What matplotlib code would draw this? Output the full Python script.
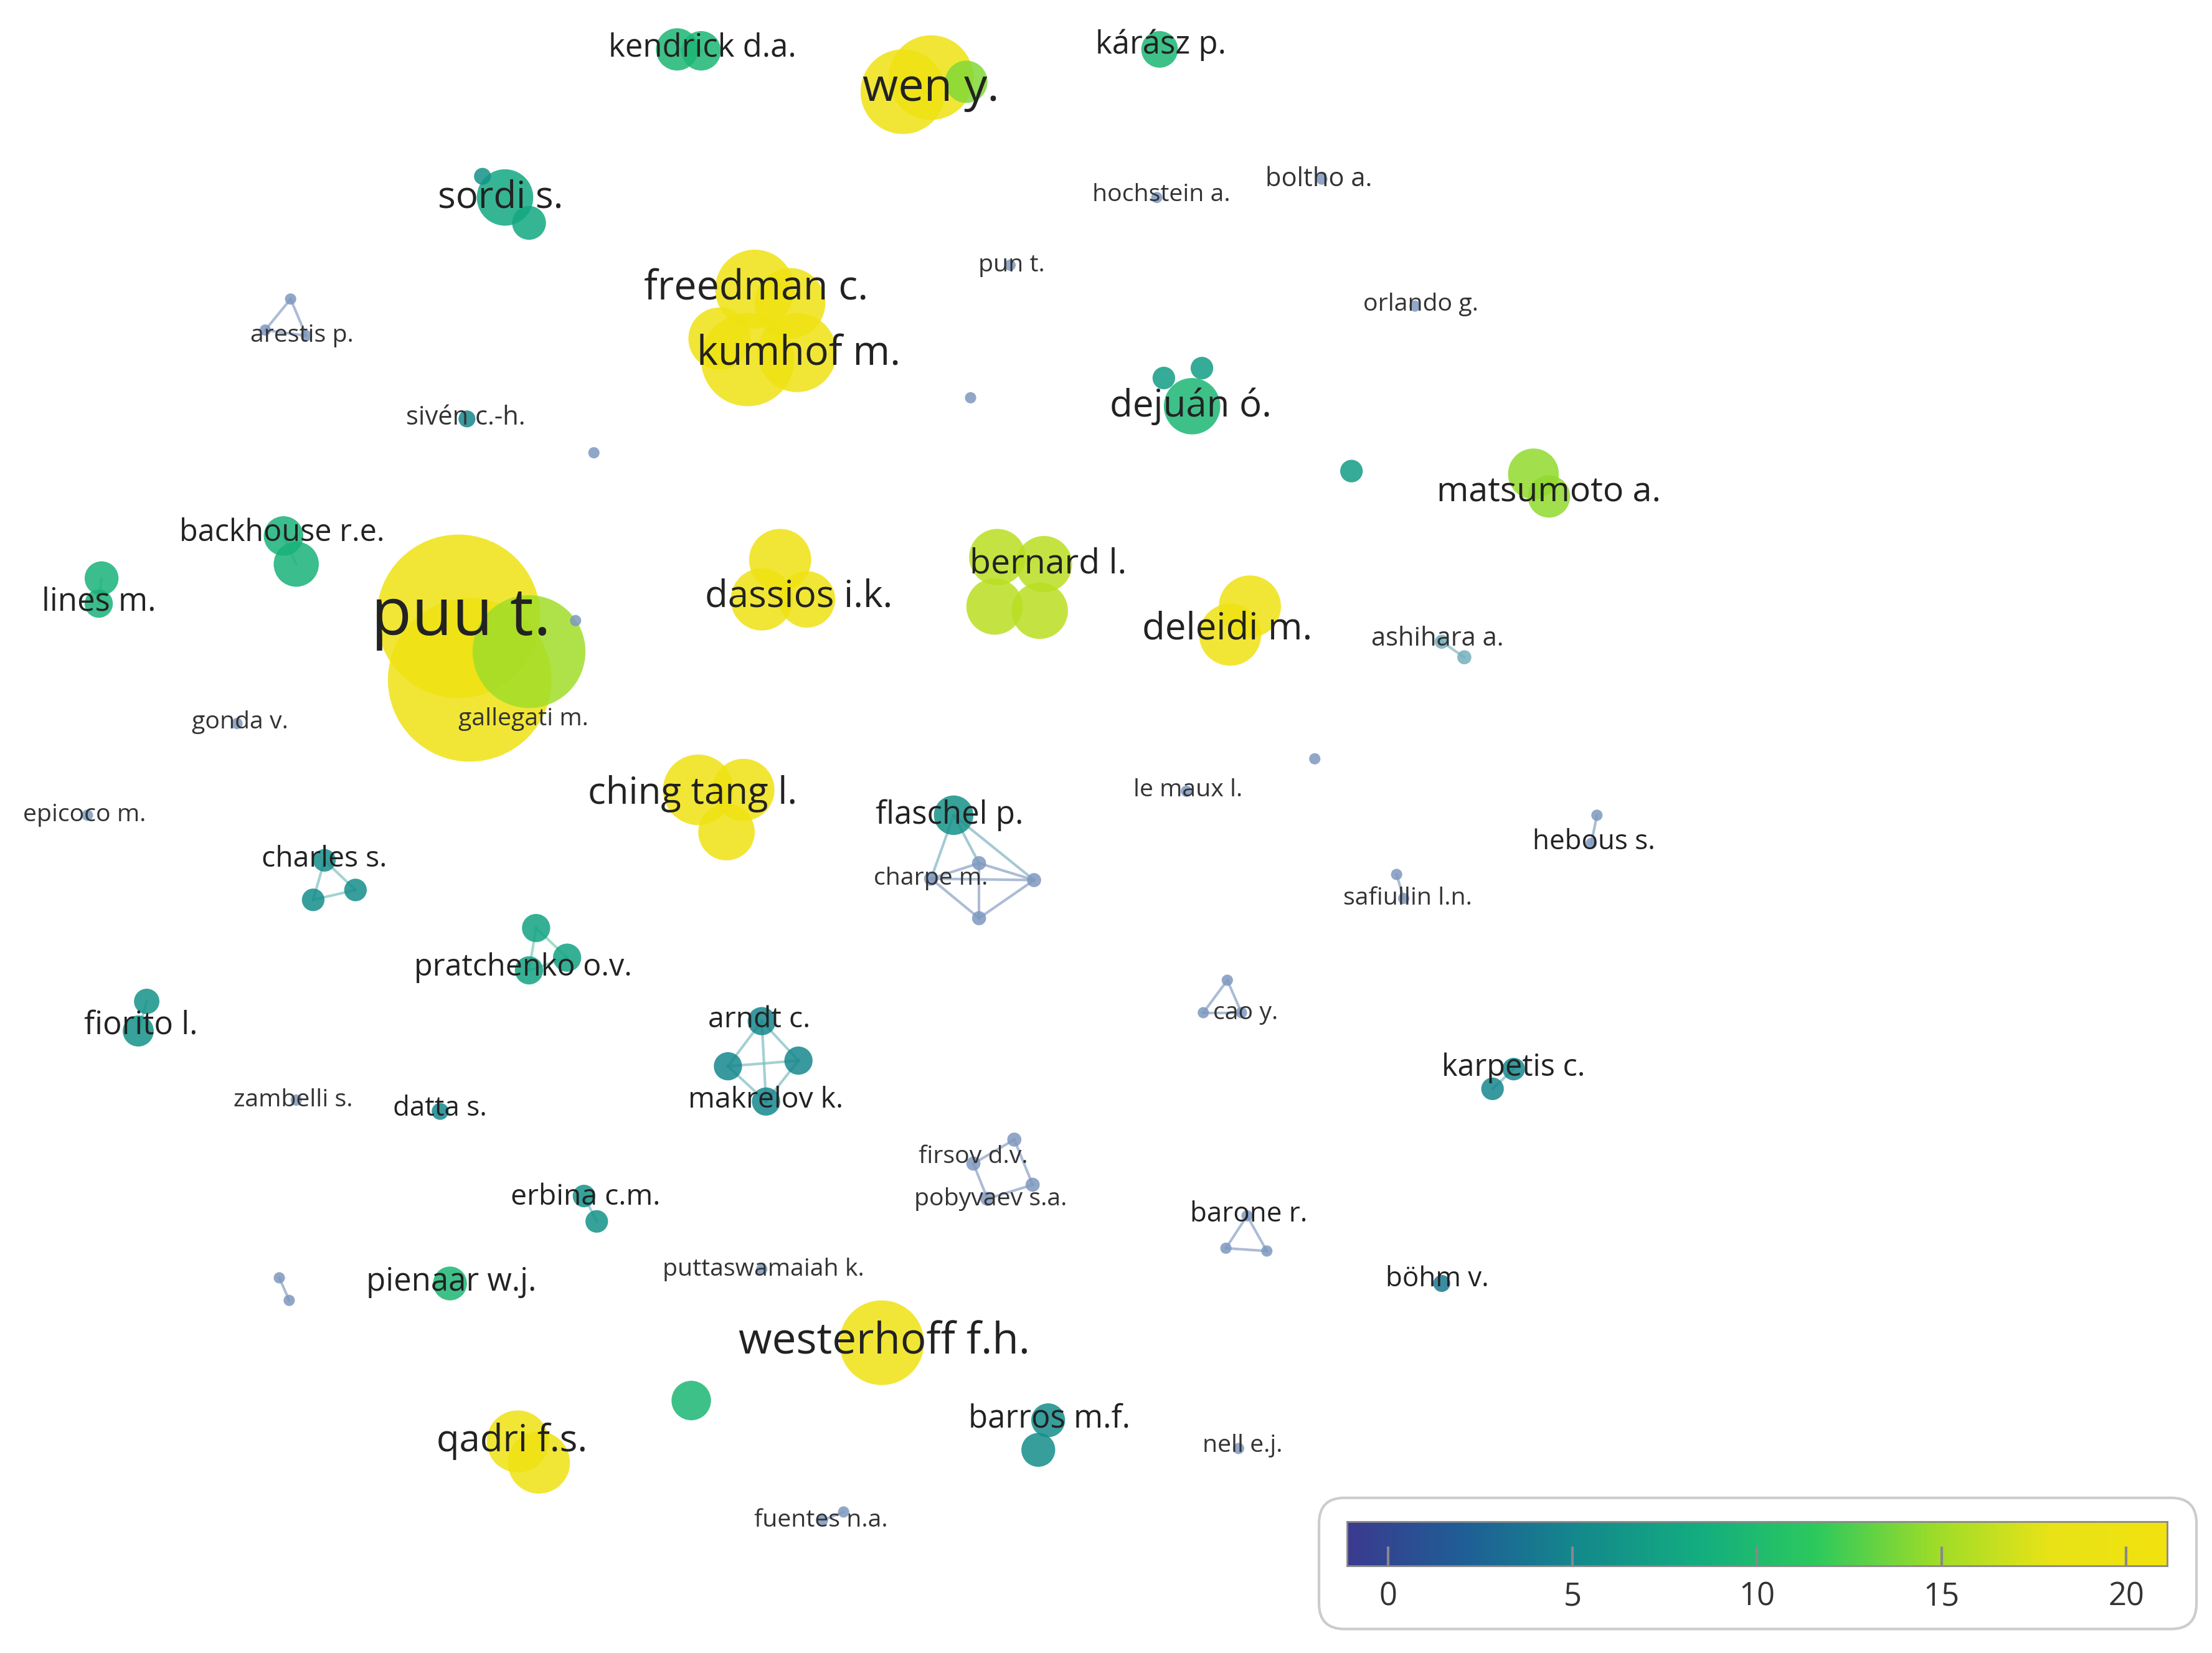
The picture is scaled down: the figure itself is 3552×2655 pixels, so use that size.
import matplotlib
matplotlib.use("Agg")
import matplotlib.pyplot as plt
from matplotlib.colors import LinearSegmentedColormap, Normalize
from matplotlib.patches import Circle, FancyBboxPatch
import numpy as np

plt.rcParams['font.family'] = ['Open Sans', 'DejaVu Sans']

W, H = 1568, 1172

# nodes: position, radius, score (colour value)
node_x = [480, 497, 640, 660, 685, 822, 358, 375, 342, 820, 937, 716, 1003,
          535, 560, 530, 565, 510, 206, 188, 217, 331, 421, 688, 845, 825, 852,
          958, 1087, 1098, 201, 210, 72, 70, 325, 333, 375, 408,
          553, 540, 572, 707, 740, 705, 737, 886, 872, 1022, 1038, 168, 62,
          495, 527, 515, 676, 694, 733, 694, 660, 841, 932, 1132, 1128, 990, 995,
          230, 222, 252, 380, 402, 375, 104, 98, 540, 516, 566, 543,
          870, 853, 880, 1073, 1058, 210, 312, 719, 732, 700, 690,
          414, 423, 869, 898, 884, 319, 198, 205, 540, 1022, 625, 490,
          743, 736, 878, 367, 382, 598, 583]
node_y = [35, 36, 65, 55, 58, 35, 140, 158, 125, 140, 127, 188, 217,
          205, 215, 255, 250, 240, 212, 234, 238, 297, 321, 282, 288, 268, 261,
          334, 336, 352, 380, 400, 410, 428, 437, 482, 462, 440,
          397, 425, 425, 395, 400, 430, 433, 430, 450, 455, 466, 513, 578,
          560, 560, 590, 578, 612, 624, 651, 623, 561, 538, 578, 598, 620, 637,
          610, 638, 631, 658, 679, 688, 710, 731, 724, 756, 752, 781,
          695, 718, 718, 758, 772, 780, 788, 808, 840, 850, 825,
          848, 866, 885, 887, 862, 910, 906, 922, 900, 910, 952, 993,
          1007, 1028, 1027, 1022, 1037, 1072, 1078]
node_r = [15, 14, 30, 30, 15, 13, 20, 12, 6, 4, 4, 4, 4,
          28, 25, 33, 28, 22, 4, 4, 4, 6, 4, 4, 20, 8, 8,
          8, 18, 15, 14, 16, 12, 10, 58, 58, 40, 4,
          22, 22, 20, 20, 20, 20, 20, 22, 22, 5, 5, 4, 4,
          25, 22, 20, 14, 5, 5, 5, 5, 4, 4, 4, 4, 4, 4,
          8, 8, 8, 10, 10, 10, 9, 11, 10, 10, 10, 10,
          4, 4, 4, 8, 8, 4, 6, 5, 5, 5, 5,
          8, 8, 4, 4, 4, 12, 4, 4, 4, 6, 30, 14,
          12, 12, 4, 22, 22, 4, 4]
node_v = [9.5, 9.5, 20, 20, 14, 9.5, 8, 8, 6, 1, 1, 1, 1,
          20, 20, 20, 20, 20, 1, 1, 1, 5, 1, 1, 9.5, 7, 7,
          7, 14.5, 14.5, 9, 9, 9, 9, 20, 20, 15, 1,
          20, 20, 20, 16, 16, 16, 16, 20, 20, 4, 4, 1, 2,
          20, 20, 20, 6, 1, 1, 1, 1, 1, 1, 1, 1, 1, 1,
          5.5, 5.5, 5.5, 7.5, 7.5, 7.5, 6, 6, 5, 5, 5, 5,
          1, 1, 1, 5, 5, 1, 5, 1, 1, 1, 1,
          6, 6, 1, 1, 1, 9.5, 1, 1, 1, 4, 20, 9.5,
          5.5, 5.5, 1, 20, 20, 1, 1]

# links within small clusters (node index pairs)
edges = [(18, 19), (19, 20), (18, 20), (55, 56), (56, 57), (57, 58), (58, 55),
         (55, 57), (56, 58), (54, 55), (54, 56), (54, 58),
         (73, 74), (74, 76), (76, 75), (75, 73), (73, 76), (74, 75),
         (77, 78), (78, 79), (79, 77), (84, 85), (85, 86), (86, 87), (87, 84),
         (90, 91), (91, 92), (92, 90), (94, 95), (65, 66), (66, 67), (67, 65),
         (68, 69), (69, 70), (70, 68), (47, 48), (61, 62), (63, 64),
         (71, 72), (80, 81), (88, 89), (105, 106), (0, 1), (30, 31), (32, 33)]

label_text = ["kendrick d.a.", "wen y.", "kárász p.", "sordi s.", "hochstein a.",
              "boltho a.", "pun t.", "orlando g.", "freedman c.", "kumhof m.",
              "arestis p.", "sivén c.-h.", "dejuán ó.", "matsumoto a.",
              "backhouse r.e.", "lines m.", "puu t.", "gallegati m.",
              "dassios i.k.", "bernard l.", "deleidi m.", "ashihara a.",
              "gonda v.", "epicoco m.", "ching tang l.", "flaschel p.",
              "charpe m.", "le maux l.", "hebous s.", "safiullin l.n.",
              "charles s.", "pratchenko o.v.", "fiorito l.", "arndt c.",
              "makrelov k.", "cao y.", "karpetis c.", "zambelli s.", "datta s.",
              "firsov d.v.", "pobyvaev s.a.", "erbina c.m.", "barone r.",
              "pienaar w.j.", "puttaswamaiah k.", "böhm v.", "westerhoff f.h.",
              "barros m.f.", "nell e.j.", "qadri f.s.", "fuentes n.a."]
label_x = [498, 660, 823, 355, 823, 935, 717, 1007, 536, 566, 214, 330, 844,
           1098, 200, 70, 327, 371, 566, 743, 870, 1019, 170, 60, 491, 673,
           660, 842, 1130, 998, 230, 371, 100, 538, 543, 883, 1073, 208, 312,
           690, 702, 415, 885, 320, 541, 1019, 627, 744, 881, 363, 582]
label_y = [34, 63, 32, 140, 138, 127, 188, 216, 205, 251, 238, 296, 288,
           349, 378, 427, 438, 510, 423, 400, 446, 453, 512, 578, 563, 578,
           623, 560, 597, 637, 609, 686, 727, 723, 780, 718, 757, 780, 786,
           820, 850, 849, 861, 909, 900, 907, 952, 1006, 1025, 1022, 1078]
label_size = [22, 32, 22, 26, 17, 18, 17, 17, 28, 28, 17, 18, 26,
              24, 21, 22, 46, 17, 26, 24, 26, 18, 17, 17, 26, 22,
              17, 17, 19, 17, 20, 21, 22, 20, 20, 17, 21, 17, 19,
              17, 17, 20, 19, 22, 17, 19, 30, 22, 17, 26, 17]

cbar_ticks = [0, 5, 10, 15, 20]
vmin, vmax = -1.1, 21.1

cmap = LinearSegmentedColormap.from_list(
    "vos", ["#3b3b8f", "#1f5f96", "#148a8c", "#13ad80", "#2cc95e",
            "#9bdc2a", "#e8e317", "#f2e20f"])
norm = Normalize(vmin, vmax)


def lighten(c, f):
    return tuple(np.array(c[:3]) * (1 - f) + f)


fig = plt.figure(figsize=(35.52, 26.55), dpi=100)
ax = fig.add_axes([0, 0, 1, 1])
ax.set_xlim(0, W)
ax.set_ylim(H, 0)
ax.set_aspect('equal')
ax.axis('off')

for i, j in edges:
    c = lighten(cmap(norm((node_v[i] + node_v[j]) / 2)), 0.45)
    ax.plot([node_x[i], node_x[j]], [node_y[i], node_y[j]],
            color=c, alpha=0.7, lw=3, zorder=1)

order = np.argsort(node_r)[::-1]
for k in order:
    r = node_r[k]
    c = cmap(norm(node_v[k]))
    if r <= 5:
        c = lighten(c, 0.4)
    ax.add_patch(Circle((node_x[k], node_y[k]), r, facecolor=c,
                        edgecolor='none', alpha=0.85, zorder=2))

scale = 2.265 * 0.72 * 1.02
for t, x, y, s in zip(label_text, label_x, label_y, label_size):
    ax.text(x, y, t, fontsize=s * scale, color='#222222' if s > 18 else '#333333',
            ha='center', va='center', zorder=3)

# colour bar frame
box = FancyBboxPatch((935, 1062), 622, 93, boxstyle="round,pad=0,rounding_size=18",
                     facecolor='white', edgecolor='#cccccc', lw=3, zorder=4)
ax.add_patch(box)

cax = fig.add_axes([955 / W, 1 - 1110 / H, 581 / W, 31 / H])
grad = np.linspace(vmin, vmax, 512).reshape(1, -1)
cax.imshow(grad, aspect='auto', cmap=cmap, norm=norm,
           extent=[vmin, vmax, 0, 1])
cax.set_xlim(vmin, vmax)
cax.set_yticks([])
cax.set_xticks(cbar_ticks)
cax.tick_params(axis='x', direction='in', length=22, width=3, color='#888888',
                labelsize=22 * scale, labelcolor='#333333', pad=18)
for sp in cax.spines.values():
    sp.set_color('#888888')
    sp.set_linewidth(2)

fig.savefig("out.png", dpi=100)
